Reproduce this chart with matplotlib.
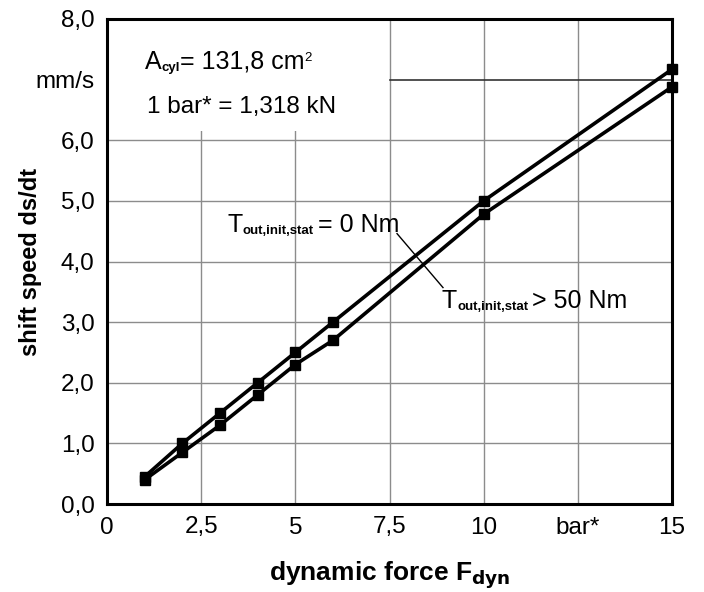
import matplotlib
matplotlib.use("Agg")
import matplotlib.pyplot as plt
from matplotlib.patches import Rectangle

plt.rcParams['font.family'] = ['Liberation Sans', 'DejaVu Sans']

force = [1, 2, 3, 4, 5, 6, 10, 15]
speed_0nm = [0.45, 1.0, 1.5, 2.0, 2.5, 3.0, 5.0, 7.17]
speed_50nm = [0.4, 0.85, 1.3, 1.8, 2.3, 2.7, 4.78, 6.88]

xticks = [0, 2.5, 5, 7.5, 10, 12.5, 15]
xticklabels = ['0', '2,5', '5', '7,5', '10', 'bar*', '15']
yticks = [0, 1, 2, 3, 4, 5, 6, 7, 8]
yticklabels = ['0,0', '1,0', '2,0', '3,0', '4,0', '5,0', '6,0', 'mm/s', '8,0']

fig = plt.figure(figsize=(7.04, 5.92), dpi=100)
ax = fig.add_axes([107/704, 1 - 504/592, (672-107)/704, (504-19)/592])

ax.set_xlim(0, 15)
ax.set_ylim(0, 8)
ax.set_xticks(xticks)
ax.set_xticklabels(xticklabels, fontsize=17.5)
ax.set_yticks(yticks)
ax.set_yticklabels(yticklabels, fontsize=17.5)
ax.tick_params(axis='x', length=0, pad=9)
ax.tick_params(axis='y', length=0, pad=9)
ax.set_axisbelow(True)
ax.grid(True, color='#8c8c8c', linewidth=1.0)
ax.yaxis.get_gridlines()[7].set_visible(False)

for s in ax.spines.values():
    s.set_linewidth(2.2)
    s.set_color('black')

# white box for the notes in upper-left corner
ax.add_patch(Rectangle((0, 6.16), 7.47, 1.84, facecolor='white', edgecolor='none', zorder=1))
ax.plot([7.5, 15], [7, 7], color='#333333', linewidth=1.2, zorder=1.5)

ax.plot(force, speed_0nm, color='black', linewidth=2.6, marker='s', markersize=6.8, zorder=3, clip_on=False)
ax.plot(force, speed_50nm, color='black', linewidth=2.6, marker='s', markersize=6.8, zorder=3, clip_on=False)


def label(x, y, main, sub, rest, size=18, subsize=9.5, sup=None, gap=0):
    t1 = ax.text(x, y, main, fontsize=size, va='baseline', ha='left', zorder=4)
    t2 = ax.annotate(sub, xy=(1, 0), xycoords=t1, fontsize=subsize, fontweight='bold',
                     va='bottom', ha='left', zorder=4)
    t3 = ax.annotate(rest, xy=(1, 0), xycoords=(t2, t1), fontsize=size,
                     xytext=(gap, 0), textcoords='offset points',
                     va='bottom', ha='left', zorder=4)
    if sup is not None:
        ax.annotate(sup, xy=(1, 1), xycoords=t3, fontsize=subsize, va='top', ha='left',
                    xytext=(0, -2), textcoords='offset points', zorder=4)


label(1.0, 7.18, 'A', 'cyl', '= 131,8 cm', sup='2')
ax.text(1.05, 6.45, '1 bar* = 1,318 kN', fontsize=17.5, va='baseline', zorder=4)

label(3.19, 4.48, 'T', 'out,init,stat', '= 0 Nm', gap=3)
label(8.89, 3.23, 'T', 'out,init,stat', '> 50 Nm', gap=3)
ax.plot([7.70, 8.92], [4.46, 3.57], color='black', linewidth=1.0, zorder=2)

ax.set_xlabel(r'dynamic force F$_{\mathbf{dyn}}$', fontsize=19, fontweight='bold', labelpad=15)
ax.set_ylabel('shift speed ds/dt', fontsize=17, fontweight='bold')
ax.yaxis.set_label_coords(-0.115, 0.5)

fig.savefig('out.png', dpi=100)
